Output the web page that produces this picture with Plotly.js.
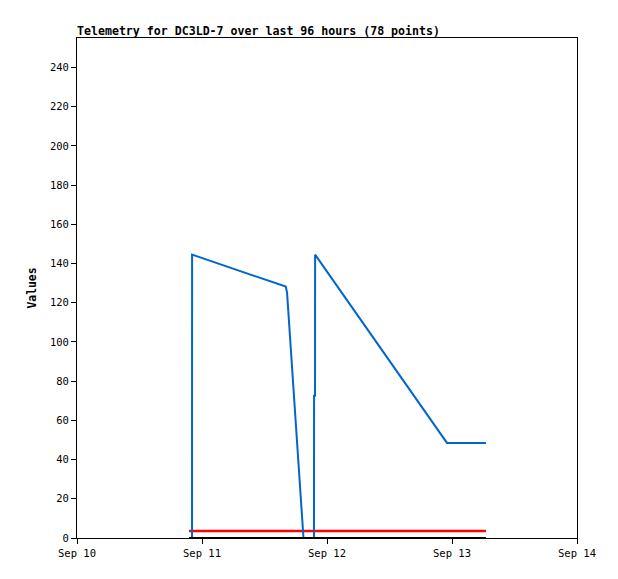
<!DOCTYPE html>
<html>
<head>
<meta charset="utf-8">
<script src="https://cdn.plot.ly/plotly-3.0.1.min.js"></script>
<style>html,body{margin:0;padding:0;background:#fff;}#chart{width:618px;height:579px;}</style>
</head>
<body>
<div id="chart"></div>
<script>
const blueTimes = [
  '2023-09-10 21:30', '2023-09-10 22:05', '2023-09-10 22:06',
  '2023-09-11 16:05', '2023-09-11 16:20', '2023-09-11 19:29',
  '2023-09-11 21:30', '2023-09-11 21:31',
  '2023-09-11 21:42', '2023-09-11 21:43', '2023-09-12 23:02',
  '2023-09-13 06:31'
];
const blueValues = [
  0, 0, 144.5,
  128.2, 125.0, 0,
  0, 72.5,
  72.5, 144.5, 48.5,
  48.5
];
const redTimes = ['2023-09-10 21:30', '2023-09-13 06:31'];
const redValues = [3.6, 3.6];
const blackTimes = ['2023-09-10 21:30', '2023-09-13 06:31'];
const blackValues = [0, 0];
const yTicks = [0, 20, 40, 60, 80, 100, 120, 140, 160, 180, 200, 220, 240];

const mono = 'DejaVu Sans Mono, monospace';
const traces = [
  {x: redTimes, y: redValues, type: 'scatter', mode: 'lines', line: {color: '#ff0000', width: 2.5}, hoverinfo: 'skip'},
  {x: blueTimes, y: blueValues, type: 'scatter', mode: 'lines', line: {color: '#0066cc', width: 2}, hoverinfo: 'skip'},
  {x: blackTimes, y: blackValues, type: 'scatter', mode: 'lines', line: {color: '#000000', width: 2}, hoverinfo: 'skip'}
];
const layout = {
  width: 618, height: 579,
  margin: {l: 77, r: 41, t: 38, b: 41},
  paper_bgcolor: '#ffffff', plot_bgcolor: '#ffffff',
  showlegend: false,
  title: {
    text: 'Telemetry for DC3LD-7 over last 96 hours (78 points)',
    font: {family: mono, size: 11.6, color: '#000', weight: 'bold'},
    x: 77/618, xanchor: 'left', xref: 'container',
    y: 1 - 31/579, yanchor: 'middle', yref: 'container'
  },
  xaxis: {
    type: 'date',
    range: ['2023-09-10 00:00', '2023-09-14 00:00'],
    dtick: 86400000, tick0: '2023-09-10',
    tickformat: '%b %d',
    ticks: 'outside', ticklen: 5, tickcolor: '#000', tickwidth: 1,
    showline: true, linecolor: '#000', linewidth: 1, mirror: true,
    showgrid: false, zeroline: false,
    tickfont: {family: mono, size: 10.5, color: '#000'}
  },
  yaxis: {
    range: [0, 255],
    tickmode: 'array', tickvals: yTicks, ticktext: yTicks.map(String),
    ticks: 'outside', ticklen: 5, tickcolor: '#000', tickwidth: 1,
    showline: true, linecolor: '#000', linewidth: 1, mirror: true,
    showgrid: false, zeroline: false,
    tickfont: {family: mono, size: 10.5, color: '#000'},
    title: {text: 'Values', font: {family: mono, size: 11.4, color: '#000', weight: 'bold'}, standoff: 10}
  }
};
Plotly.newPlot('chart', traces, layout, {staticPlot: true, displayModeBar: false});
</script>
</body>
</html>
